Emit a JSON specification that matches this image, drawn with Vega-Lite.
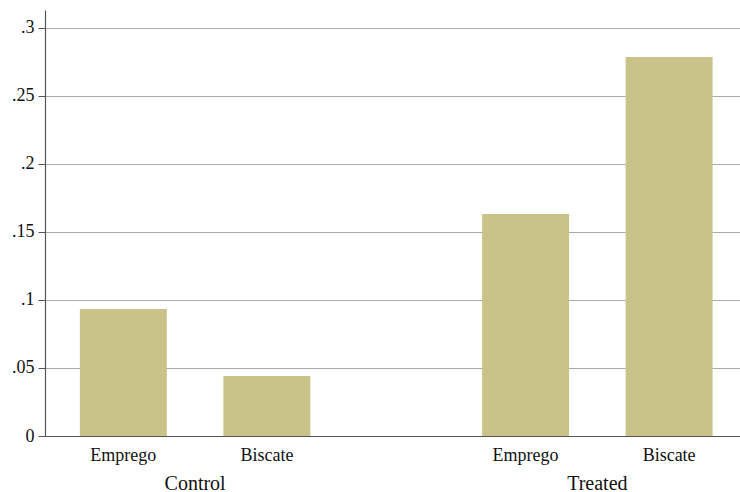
{
  "$schema": "https://vega.github.io/schema/vega-lite/v6.json",
  "width": 695,
  "height": 426,
  "autosize": {"type": "none"},
  "padding": {"left": 45, "top": 10, "right": 0, "bottom": 56},
  "background": "white",
  "config": {"view": {"stroke": null}, "font": "Liberation Serif"},
  "data": {
    "values": [
      {"group": "Control", "type": "Emprego", "value": 0.0934},
      {"group": "Control", "type": "Biscate", "value": 0.0441},
      {"group": "Treated", "type": "Emprego", "value": 0.1632},
      {"group": "Treated", "type": "Biscate", "value": 0.2787}
    ]
  },
  "encoding": {
    "x": {
      "field": "group",
      "type": "nominal",
      "sort": ["Control", "Treated"],
      "scale": {"paddingInner": 0.427, "paddingOuter": 0.0774, "align": 0.56},
      "axis": {
        "title": null,
        "ticks": false,
        "labelPadding": 37,
        "labelFontSize": 20,
        "labelAngle": 0,
        "labelColor": "#111111",
        "domainColor": "#555555",
        "domainWidth": 1.2,
        "grid": false
      }
    },
    "xOffset": {
      "field": "type",
      "type": "nominal",
      "sort": ["Emprego", "Biscate"],
      "scale": {"paddingInner": 0.394, "paddingOuter": 0}
    }
  },
  "layer": [
    {
      "mark": {"type": "bar", "color": "#c9c389"},
      "encoding": {
        "y": {
          "field": "value",
          "type": "quantitative",
          "scale": {"domain": [0, 0.3132], "nice": false},
          "axis": {
            "title": null,
            "values": [0, 0.05, 0.1, 0.15, 0.2, 0.25, 0.3],
            "labelExpr": "datum.value == 0 ? '0' : slice(format(datum.value, '.2~f'), 1)",
            "labelFontSize": 18,
            "labelColor": "#111111",
            "labelPadding": 4,
            "tickSize": 7,
            "tickColor": "#555555",
            "domainColor": "#555555",
            "domainWidth": 1.2,
            "grid": true,
            "gridColor": "#aaaaaa",
            "gridWidth": 1
          }
        }
      }
    },
    {
      "mark": {"type": "text", "dy": 25, "baseline": "alphabetic", "fontSize": 18, "color": "#111111"},
      "encoding": {
        "y": {"datum": 0},
        "text": {"field": "type"}
      }
    }
  ]
}
